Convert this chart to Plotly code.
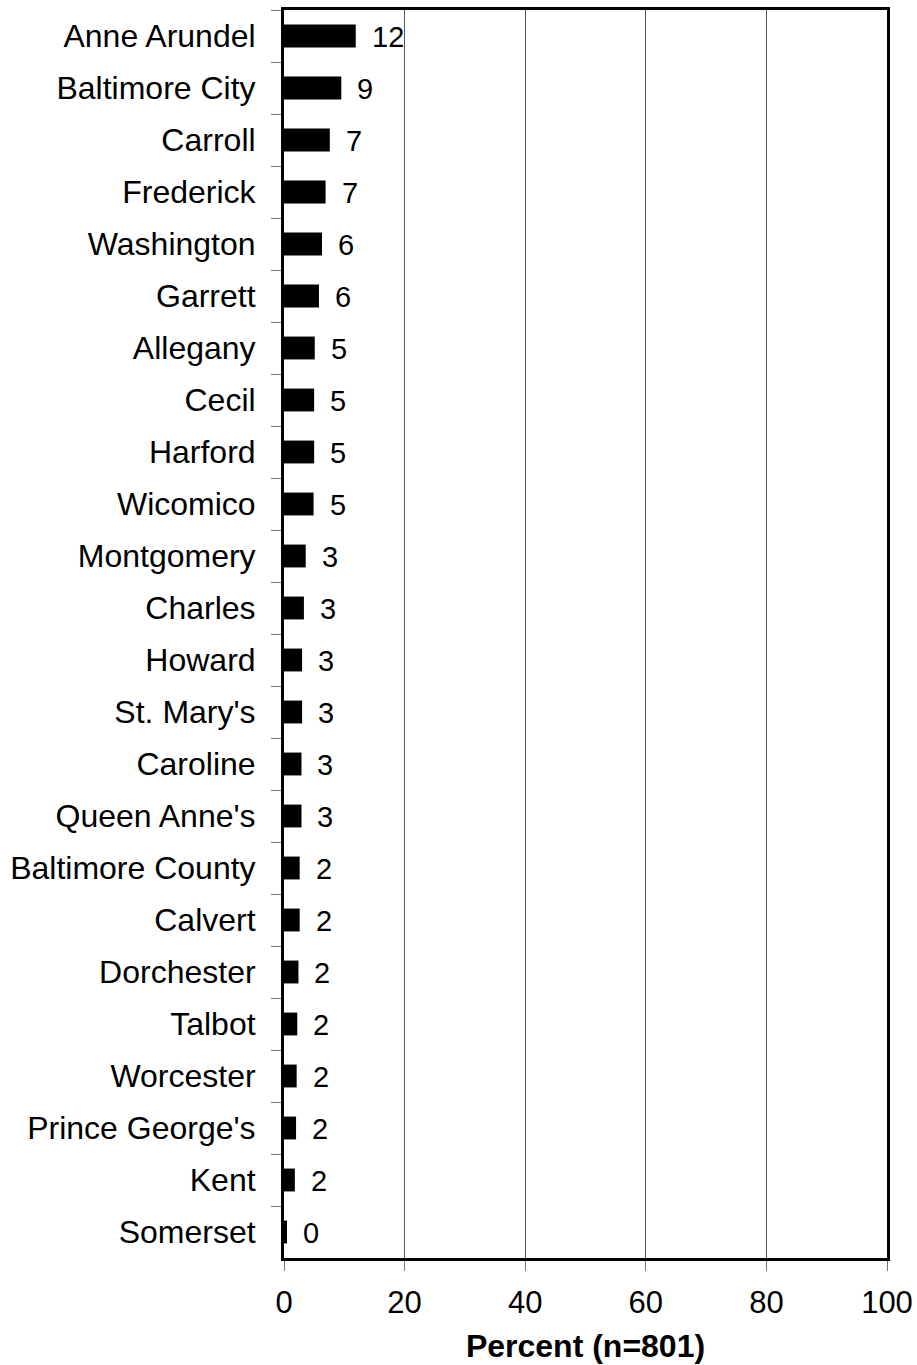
import plotly.graph_objects as go

counties = ["Anne Arundel", "Baltimore City", "Carroll", "Frederick", "Washington",
            "Garrett", "Allegany", "Cecil", "Harford", "Wicomico", "Montgomery",
            "Charles", "Howard", "St. Mary's", "Caroline", "Queen Anne's",
            "Baltimore County", "Calvert", "Dorchester", "Talbot", "Worcester",
            "Prince George's", "Kent", "Somerset"]
percent = [11.9, 9.5, 7.6, 6.9, 6.3, 5.8, 5.1, 5.0, 5.0, 4.9, 3.6, 3.3, 3.0, 3.0,
           2.9, 2.9, 2.6, 2.6, 2.4, 2.2, 2.1, 2.0, 1.8, 0.5]
value_labels = ["12", "9", "7", "7", "6", "6", "5", "5", "5", "5", "3", "3", "3", "3",
                "3", "3", "2", "2", "2", "2", "2", "2", "2", "0"]
x_ticks = [0, 20, 40, 60, 80, 100]
x_title = "Percent (n=801)"

FONT = "Liberation Sans, Arial, Helvetica, sans-serif"

fig = go.Figure()
fig.add_trace(go.Bar(
    x=percent, y=counties, orientation="h",
    marker=dict(color="black", line=dict(width=0)),
    width=0.44, showlegend=False, hoverinfo="skip",
))

for c, v, t in zip(counties, percent, value_labels):
    fig.add_annotation(x=v, y=c, text=t, showarrow=False, xanchor="left",
                       yanchor="middle", xshift=14, yshift=-1,
                       font=dict(family=FONT, size=29, color="black"))

fig.update_layout(
    width=917, height=1365, autosize=False,
    margin=dict(l=284, r=30, t=10, b=107, autoexpand=False),
    paper_bgcolor="white", plot_bgcolor="white",
    font=dict(family=FONT, size=31, color="black"),
    bargap=0.56,
)
fig.update_xaxes(
    range=[0, 100], tickvals=x_ticks, ticktext=[str(v) for v in x_ticks],
    showgrid=True, gridcolor="#555555", gridwidth=1,
    showline=True, linecolor="black", linewidth=3, mirror=True,
    ticks="outside", ticklen=10, tickcolor="#777777", tickwidth=1,
    ticklabelstandoff=5, automargin=False,
    tickfont=dict(family=FONT, size=31, color="black"),
    zeroline=False,
    title=dict(text="<b>" + x_title + "</b>", font=dict(family=FONT, size=32, color="black"),
               standoff=16),
)
fig.update_yaxes(
    categoryorder="array", categoryarray=counties, autorange="reversed",
    showgrid=False, showline=True, linecolor="black", linewidth=3, mirror=True,
    ticks="outside", tickson="boundaries", ticklen=10, tickcolor="#777777", tickwidth=1,
    ticklabelstandoff=19, automargin=False,
    tickfont=dict(family=FONT, size=32, color="black"),
    zeroline=False,
)

fig.write_html(
    "out.html",
    config={"displayModeBar": False, "responsive": False},
    post_script="document.body.style.margin='0';document.body.style.overflow='hidden';",
)
